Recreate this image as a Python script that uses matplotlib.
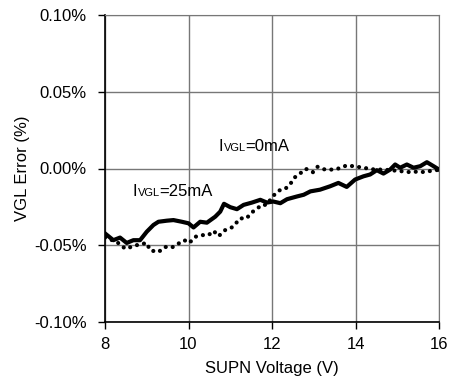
import numpy as np
import matplotlib
matplotlib.use("Agg")
import matplotlib.pyplot as plt
from matplotlib.ticker import FuncFormatter
from matplotlib.offsetbox import TextArea, HPacker, AnnotationBbox

plt.rcParams['font.family'] = ['Liberation Sans', 'DejaVu Sans']

# IVGL = 25mA (solid)
v_25 = [8.0, 8.2, 8.36, 8.52, 8.68, 8.84, 9.0, 9.16, 9.28, 9.48, 9.64, 9.84,
        10.0, 10.12, 10.28, 10.44, 10.64, 10.76, 10.85, 11.0, 11.16, 11.32,
        11.52, 11.72, 11.88, 12.03, 12.2, 12.36, 12.6, 12.76, 12.92, 13.15,
        13.39, 13.59, 13.79, 13.99, 14.19, 14.35, 14.51, 14.67, 14.83, 14.95,
        15.07, 15.23, 15.39, 15.55, 15.71, 15.87, 16.0]
err_25 = [-0.0423, -0.0467, -0.045, -0.0485, -0.0467, -0.0467, -0.0412, -0.0368,
          -0.0347, -0.034, -0.0336, -0.0347, -0.0357, -0.0384, -0.0347, -0.0353,
          -0.0314, -0.0281, -0.023, -0.0252, -0.0265, -0.0237, -0.0222, -0.0204,
          -0.0222, -0.0215, -0.0226, -0.02, -0.0182, -0.0171, -0.0149, -0.0138,
          -0.0116, -0.0094, -0.012, -0.0072, -0.0051, -0.0039, -0.0011, -0.0033,
          -0.0007, 0.0026, 0.0005, 0.0026, 0.0005, 0.0015, 0.0041, 0.0015, -0.0007]

# IVGL = 0mA (dotted)
v_0 = [8.0, 8.2, 8.35, 8.48, 8.58, 8.75, 9.0, 9.08, 9.28, 9.44, 9.6, 9.76, 9.9,
       10.02, 10.16, 10.32, 10.48, 10.6, 10.72, 10.88, 11.07, 11.23, 11.39,
       11.51, 11.63, 11.75, 11.87, 12.03, 12.17, 12.31, 12.43, 12.53, 12.67,
       12.81, 12.98, 13.09, 13.27, 13.43, 13.57, 13.79, 13.95, 14.19, 14.4,
       14.59, 14.8, 15.0, 15.31, 15.5, 15.67, 15.87, 16.0]
err_0 = [-0.045, -0.047, -0.049, -0.0522, -0.0515, -0.050, -0.0485, -0.0533,
         -0.0544, -0.0511, -0.0515, -0.0489, -0.0467, -0.0485, -0.0445, -0.0434,
         -0.0434, -0.0406, -0.0441, -0.0401, -0.038, -0.0325, -0.0325, -0.0287,
         -0.0265, -0.0237, -0.0237, -0.0178, -0.0143, -0.0134, -0.0105, -0.0061,
         -0.0033, -0.0002, -0.0024, 0.0011, -0.0007, -0.0007, -0.0002, 0.002,
         0.0015, 0.0005, -0.0005, -0.0007, -0.001, -0.0015, -0.0024, -0.002,
         -0.0024, -0.0011, -0.001]

x_ticks = [8, 10, 12, 14, 16]
y_ticks = [-0.10, -0.05, 0.00, 0.05, 0.10]

fig = plt.figure(figsize=(4.49, 3.83), dpi=100)
ax = fig.add_axes([105/449, 61/383, 334/449, 307/383])

ax.grid(True, color='#777777', linewidth=1.0, zorder=0)
ax.plot(v_0, err_0, color='black', linewidth=3, linestyle=(0, (0.01, 1.7)),
        dash_capstyle='round', zorder=3)
ax.plot(v_25, err_25, color='black', linewidth=3, solid_joinstyle='round', zorder=4)

ax.set_xlim(8, 16)
ax.set_ylim(-0.10, 0.10)
ax.set_xticks(x_ticks)
ax.set_yticks(y_ticks)
ax.yaxis.set_major_formatter(FuncFormatter(lambda v, p: f"{v:.2f}%"))
ax.tick_params(labelsize=12, length=5, width=1, direction='out', color='black')
ax.tick_params(axis='x', pad=6)
ax.tick_params(axis='y', pad=8)
for s in ['top', 'right']:
    ax.spines[s].set_color('#777777')
for s in ['left', 'bottom']:
    ax.spines[s].set_color('black')
    ax.spines[s].set_linewidth(1.2)

ax.set_xlabel("SUPN Voltage (V)", fontsize=12, labelpad=6)
ax.set_ylabel("VGL Error (%)", fontsize=12, labelpad=3)


def label(x, y, rest):
    box = HPacker(children=[TextArea("I", textprops=dict(size=12)),
                            TextArea("VGL", textprops=dict(size=8)),
                            TextArea(rest, textprops=dict(size=12))],
                  align="baseline", pad=0, sep=0)
    ab = AnnotationBbox(box, (x, y), xycoords='data', frameon=False,
                        box_alignment=(0, 0.5), pad=0)
    ax.add_artist(ab)


label(10.73, 0.0145, "=0mA")
label(8.67, -0.0149, "=25mA")

fig.savefig("out.png", dpi=100)
